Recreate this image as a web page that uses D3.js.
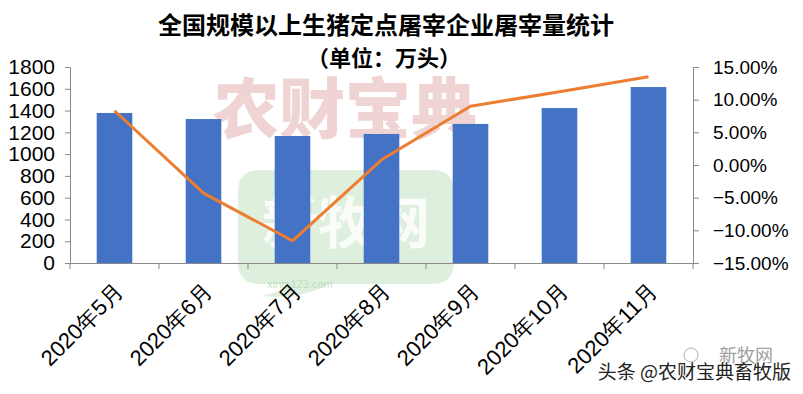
<!DOCTYPE html>
<html>
<head>
<meta charset="utf-8">
<script src="https://cdn.jsdelivr.net/npm/d3@7"></script>
<style>
  body { margin: 0; background: #fff; }
  svg { display: block; font-family: "Liberation Sans", Arial, sans-serif; }
</style>
</head>
<body>
<div id="chart"></div>
<script>
// Data
const months = ['2020年5月', '2020年6月', '2020年7月', '2020年8月', '2020年9月', '2020年10月', '2020年11月'];
const slaughter = [1378, 1322, 1166, 1185, 1277, 1423, 1616];
const growth = [8.3, -4.3, -11.6, 0.8, 9.0, 11.2, 13.5];
const leftTicks = [0, 200, 400, 600, 800, 1000, 1200, 1400, 1600, 1800];
const rightTicks = [-15, -10, -5, 0, 5, 10, 15];

const width = 803, height = 394,
      margin = {top: 67, right: 110, bottom: 131, left: 70};

const svg = d3.select('#chart').append('svg')
    .attr('width', width)
    .attr('height', height);

svg.append('rect').attr('width', width).attr('height', height).attr('fill', '#fff');

// Scales
const x = d3.scaleBand()
    .domain(months)
    .range([margin.left, width - margin.right])
    .paddingInner(0.6)
    .paddingOuter(0.3);

const xEdge = d3.scaleBand()
    .domain(months)
    .range([margin.left, width - margin.right]);

const y = d3.scaleLinear()
    .domain([0, 1800])
    .range([height - margin.bottom, margin.top]);

const y2 = d3.scaleLinear()
    .domain([-15, 15])
    .range([height - margin.bottom, margin.top]);

// Watermarks (behind the data)
svg.append('text')
   .attr('x', 345).attr('y', 133)
   .attr('text-anchor', 'middle')
   .attr('font-family', 'Noto Sans CJK SC')
   .attr('font-weight', 900)
   .attr('font-size', 66)
   .attr('fill', 'rgba(222,160,160,0.45)')
   .text('农财宝典');

svg.append('path')
   .attr('d', 'M260,170 H432 Q454,170 454,192 V262 Q454,284 432,284 H330 Q300,300 262,296 Q286,290 290,284 H260 Q238,284 238,262 V192 Q238,170 260,170 Z')
   .attr('fill', 'rgba(160,210,160,0.35)');

svg.append('text')
   .attr('x', 346).attr('y', 243)
   .attr('text-anchor', 'middle')
   .attr('font-family', 'Noto Sans CJK SC')
   .attr('font-weight', 700)
   .attr('font-size', 56)
   .attr('fill', 'rgba(255,255,255,0.8)')
   .text('新牧网');

svg.append('text')
   .attr('x', 300).attr('y', 288)
   .attr('text-anchor', 'middle')
   .attr('font-size', 11)
   .attr('fill', 'rgba(160,210,160,0.6)')
   .text('xinm123.com');

// Bars
svg.append('g')
   .selectAll('rect')
   .data(slaughter)
   .join('rect')
     .attr('x', (d, i) => x(months[i]))
     .attr('y', d => y(d))
     .attr('width', x.bandwidth())
     .attr('height', d => y(0) - y(d))
     .attr('fill', '#4472C4');

// Line
const line = d3.line()
    .x((d, i) => xEdge(months[i]) + xEdge.bandwidth() / 2)
    .y(d => y2(d));

svg.append('path')
   .datum(growth)
   .attr('fill', 'none')
   .attr('stroke', '#ED7D31')
   .attr('stroke-width', 3)
   .attr('stroke-linejoin', 'round')
   .attr('d', line);

// Axes
const axisColor = '#898989';

const gLeft = svg.append('g')
   .attr('transform', `translate(${margin.left},0)`)
   .call(d3.axisLeft(y).tickValues(leftTicks).tickSize(5).tickSizeOuter(0).tickPadding(10)
         .tickFormat(d3.format('d')));

const gRight = svg.append('g')
   .attr('transform', `translate(${width - margin.right},0)`)
   .call(d3.axisRight(y2).tickValues(rightTicks).tickSize(6).tickSizeOuter(0).tickPadding(14)
         .tickFormat(d => d3.format('.2f')(d) + '%'));

const gBottom = svg.append('g')
   .attr('transform', `translate(0,${height - margin.bottom})`)
   .call(d3.axisBottom(xEdge).tickSize(0).tickSizeOuter(0).tickFormat(''));

// category boundary ticks
gBottom.selectAll('.sep')
   .data(d3.range(months.length + 1))
   .join('line')
     .attr('x1', i => margin.left + i * xEdge.step())
     .attr('x2', i => margin.left + i * xEdge.step())
     .attr('y1', 0).attr('y2', 6)
     .attr('stroke', axisColor);

[gLeft, gRight, gBottom].forEach(g => {
  g.selectAll('.domain, .tick line').attr('stroke', axisColor);
  g.selectAll('.tick text').attr('fill', '#000').attr('font-size', 21);
});
gRight.selectAll('.tick text').attr('font-size', 19);

// Rotated category labels
svg.append('g')
   .selectAll('text')
   .data(months)
   .join('text')
     .attr('transform', d => `translate(${xEdge(d) + xEdge.bandwidth() / 2 - 1},${height - margin.bottom + 19}) rotate(-45)`)
     .attr('text-anchor', 'end')
     .attr('dy', '0.7em')
     .attr('font-size', 22)
     .attr('fill', '#000')
     .text(d => d);

// Title
svg.append('text')
   .attr('x', 386).attr('y', 34)
   .attr('text-anchor', 'middle')
   .attr('font-family', 'Noto Sans CJK SC')
   .attr('font-weight', 700)
   .attr('font-size', 24)
   .text('全国规模以上生猪定点屠宰企业屠宰量统计');

svg.append('text')
   .attr('x', 384).attr('y', 66)
   .attr('text-anchor', 'middle')
   .attr('font-family', 'Noto Sans CJK SC')
   .attr('font-weight', 700)
   .attr('font-size', 22)
   .text('（单位：万头）');

// Corner watermarks
svg.append('circle')
   .attr('cx', 691).attr('cy', 355).attr('r', 7)
   .attr('fill', 'none').attr('stroke', '#b0b0b0').attr('stroke-width', 1);

svg.append('text')
   .attr('x', 746).attr('y', 362)
   .attr('text-anchor', 'middle')
   .attr('font-family', 'Noto Sans CJK SC')
   .attr('font-size', 18)
   .attr('fill', '#a0a0a0')
   .text('新牧网');

svg.append('text')
   .attr('x', 791).attr('y', 379)
   .attr('text-anchor', 'end')
   .attr('font-family', 'Noto Sans CJK SC')
   .attr('font-size', 19)
   .attr('fill', '#222')
   .text('头条 @农财宝典畜牧版');
</script>
</body>
</html>
